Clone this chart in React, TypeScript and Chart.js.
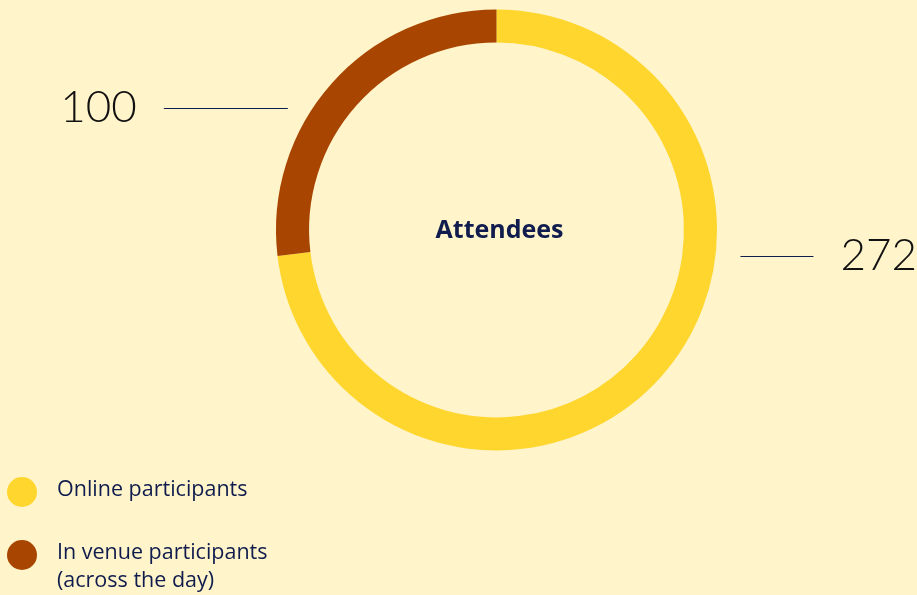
import React, { useEffect, useRef } from "react";
import { Chart, registerables } from "chart.js";

Chart.register(...registerables);

const categories = ["Online participants", "In venue participants (across the day)"];
const legendLines = [["Online participants"], ["In venue participants", "(across the day)"]];
const values = [272, 100];
const colors = ["#FFD62E", "#A84500"];
const centerTitle = "Attendees";

const BG = "#FFF4CA";
const NAVY = "#0F1C4D";

const overlayPlugin = {
  id: "overlay",
  afterDraw(chart: any) {
    const ctx = chart.ctx;
    const meta = chart.getDatasetMeta(0);
    const arc0 = meta.data[0];
    const cx = arc0.x;
    const cy = arc0.y;
    const r = arc0.outerRadius;
    ctx.save();
    // center title
    ctx.fillStyle = NAVY;
    ctx.font = "bold 25px 'Open Sans'";
    ctx.textAlign = "center";
    ctx.textBaseline = "middle";
    ctx.fillText(centerTitle, cx + 3, cy + 1);

    // value labels
    const specs = [
      { i: 0, dy: 26, side: 1 },
      { i: 1, dy: -122, side: -1 },
    ];
    specs.forEach((s) => {
      const y = cy + s.dy;
      const edge = cx + s.side * Math.sqrt(r * r - s.dy * s.dy);
      const near = edge + s.side * 25;
      const lineLen = s.side > 0 ? 73 : 124;
      const far = near + s.side * lineLen;
      ctx.strokeStyle = NAVY;
      ctx.lineWidth = 1.2;
      ctx.beginPath();
      ctx.moveTo(near, y + 0.5);
      ctx.lineTo(far, y + 0.5);
      ctx.stroke();
      ctx.fillStyle = "#111111";
      ctx.font = "300 44px Lato";
      ctx.textBaseline = "middle";
      ctx.textAlign = s.side > 0 ? "left" : "right";
      ctx.fillText(String(values[s.i]), far + s.side * 27, y);
    });

    // legend
    ctx.textAlign = "left";
    ctx.textBaseline = "middle";
    ctx.font = "21.5px 'Open Sans'";
    legendLines.forEach((lines, i) => {
      const y = 492 + i * 63;
      ctx.fillStyle = colors[i];
      ctx.beginPath();
      ctx.arc(22, y, 15, 0, Math.PI * 2);
      ctx.fill();
      ctx.fillStyle = NAVY;
      lines.forEach((t, j) => {
        ctx.fillText(t, 57, y - 2 + j * 28);
      });
    });
    ctx.restore();
  },
};

export default function App() {
  const ref = useRef<HTMLCanvasElement>(null);
  useEffect(() => {
    if (!ref.current) return;
    const chart = new Chart(ref.current, {
      type: "doughnut",
      data: {
        labels: categories,
        datasets: [
          {
            data: values,
            backgroundColor: colors,
            borderWidth: 0,
          },
        ],
      },
      options: {
        animation: false,
        responsive: false,
        maintainAspectRatio: false,
        cutout: "85%",
        layout: { padding: { top: 9.5, bottom: 144.5, left: 276, right: 200 } },
        plugins: {
          legend: { display: false },
          tooltip: { enabled: false },
        },
      },
      plugins: [overlayPlugin],
    });
    return () => chart.destroy();
  }, []);
  return (
    <div style={{ position: "fixed", left: 0, top: 0, width: 917, height: 595, background: BG }}>
      <canvas ref={ref} width={917} height={595} style={{ display: "block" }} />
    </div>
  );
}
